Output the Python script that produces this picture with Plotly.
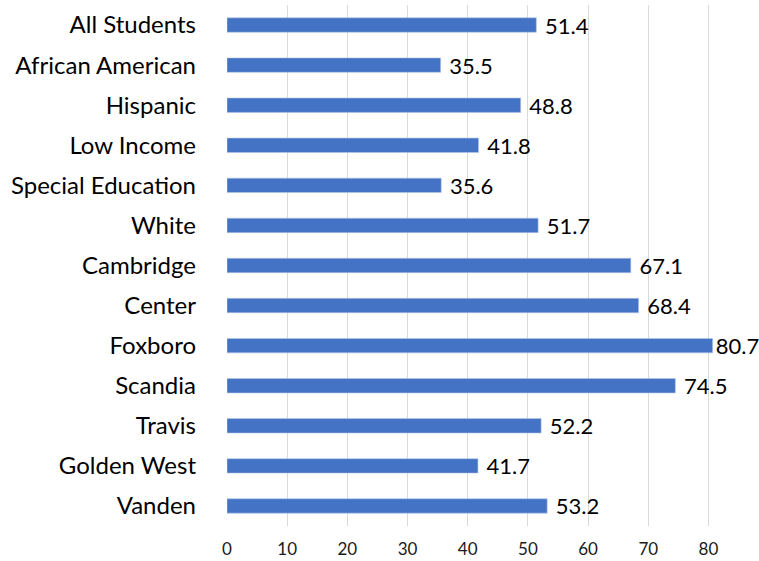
import plotly.graph_objects as go

categories = ["All Students", "African American", "Hispanic", "Low Income",
              "Special Education", "White", "Cambridge", "Center", "Foxboro",
              "Scandia", "Travis", "Golden West", "Vanden"]
values = [51.4, 35.5, 48.8, 41.8, 35.6, 51.7, 67.1, 68.4, 80.7, 74.5, 52.2, 41.7, 53.2]
x_ticks = [0, 10, 20, 30, 40, 50, 60, 70, 80]
x_max = 88.4

# The longest bar's label has no room past the frame, so it sits flush to the bar end
labels = [f"{v:.1f}" if v == max(values) else f" {v:.1f}" for v in values]

fig = go.Figure(go.Bar(
    x=values,
    y=categories,
    orientation="h",
    width=0.36,
    marker=dict(color="#4472C4", line=dict(color="#B4C7E7", width=0.6)),
    text=labels,
    textposition="outside",
    constraintext="none",
    cliponaxis=False,
    textfont=dict(family="Lato", size=22, color="#000000"),
))

fig.update_layout(
    width=759, height=561,
    margin=dict(l=227, r=0, t=5, b=35),
    paper_bgcolor="white", plot_bgcolor="white",
    showlegend=False,
    font=dict(family="Lato"),
    xaxis=dict(
        range=[0, x_max], tickvals=x_ticks, showgrid=True, gridcolor="#D9D9D9",
        gridwidth=1.2, zeroline=False, showline=False,
        ticklabelstandoff=11,
        tickfont=dict(family="Lato", size=17, color="#1A1A1A"),
    ),
    yaxis=dict(
        autorange="reversed", showgrid=False, showline=False,
        ticklabelstandoff=30,
        tickfont=dict(family="Lato", size=24, color="#000000"),
    ),
)

fig.write_html("out.html")
